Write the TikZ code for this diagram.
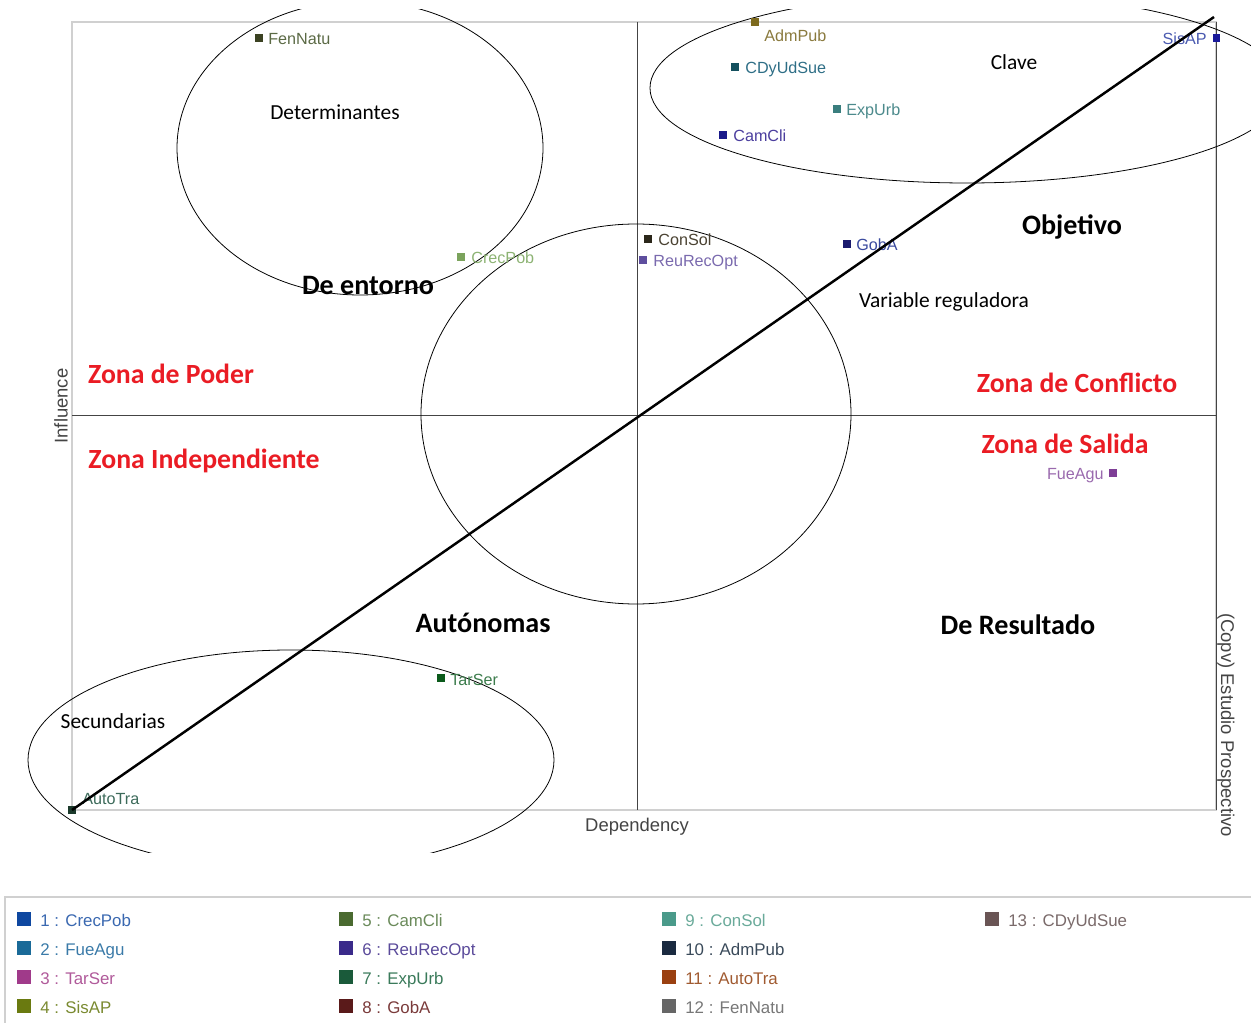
\documentclass[tikz,border=0pt]{standalone}
\usepackage{fontspec}
\setmainfont{Carlito}
\newfontfamily\arialf{Liberation Sans}
\definecolor{zred}{HTML}{EA1C24}
\definecolor{framegray}{HTML}{D0D0D0}
\definecolor{axisgray}{HTML}{444444}
\begin{document}
\begin{tikzpicture}[x=0.02cm,y=-0.02cm,
  dot/.style={/utils/exec={\definecolor{dotc}{HTML}{#1}},fill=dotc,draw=none,inner sep=0pt,minimum size=4pt},
  lbl/.style={/utils/exec={\definecolor{lblc}{HTML}{#1}},text=lblc,font=\arialf\fontsize{9.2}{11}\selectfont,inner sep=0pt},
  legsq/.style={/utils/exec={\definecolor{sqc}{HTML}{#1}},fill=sqc,draw=none,inner sep=0pt,minimum size=8.5pt},
  legtx/.style={/utils/exec={\definecolor{txc}{HTML}{#1}},text=txc,font=\arialf\fontsize{9.6}{11}\selectfont,inner sep=0pt,anchor=base west},
  zone/.style={text=zred,font=\fontsize{15.8}{18}\selectfont\bfseries,inner sep=0pt},
  cat/.style={text=black,font=\fontsize{16}{18}\selectfont\bfseries,inner sep=0pt},
  plain/.style={text=black,font=\fontsize{12.2}{14}\selectfont,inner sep=0pt},
  ell/.style={draw=black,line width=0.45pt},
  axlbl/.style={text=axisgray,font=\arialf\fontsize{10.5}{12}\selectfont,inner sep=0pt}]
\useasboundingbox (0,0) rectangle (1251,1023);
% frame and axes
\coordinate (fTL) at (72,22); \coordinate (fBR) at (1216,810);
\draw[framegray,line width=0.6pt] (fTL) rectangle (fBR);
\draw[axisgray,line width=0.5pt] (1216,22) -- (1216,810);
\coordinate (vT) at (637,22); \coordinate (vB) at (637,810);
\coordinate (hL) at (72,415); \coordinate (hR) at (1216,415);
\draw[axisgray,line width=0.5pt] (vT) -- (vB);
\draw[axisgray,line width=0.5pt] (hL) -- (hR);
\node[axlbl,rotate=90] (infl) at (61,406) {Influence};
\node[axlbl] (dep) at (637,827) {Dependency};
\node[axlbl,rotate=-90] (copv) at (1226,725) {(Copv) Estudio Prospectivo};
% ellipses
\begin{scope}
\clip (0,10) rectangle (1251,852);
\draw[ell] (360,148) ellipse [x radius=183, y radius=147];
\draw[ell] (967,88) ellipse [x radius=317, y radius=95];
\draw[ell] (636,414) ellipse [x radius=215, y radius=190];
\draw[ell] (291,760) ellipse [x radius=263, y radius=110];
\end{scope}
% data points
\node[dot=3B4222] (pFen) at (259,38) {};
\node[lbl=5B6A45,anchor=base west] (lFen) at (268,45) {FenNatu};
\node[dot=7D6A1E] (pAdm) at (755,22) {};
\node[lbl=8A7A3E,anchor=base west] (lAdm) at (764,42) {AdmPub};
\node[dot=14505E] (pCDy) at (735,67) {};
\node[lbl=2E6E86,anchor=base west] (lCDy) at (745,74) {CDyUdSue};
\node[dot=3A7E7E] (pExp) at (837,109) {};
\node[lbl=4C8A8C,anchor=base west] (lExp) at (846,116) {ExpUrb};
\node[dot=1A1A8A] (pCam) at (723,135) {};
\node[lbl=4B3E9E,anchor=base west] (lCam) at (733,142) {CamCli};
\node[dot=1A1A9A] (pSis) at (1216,38) {};
\node[lbl=4A5AB0,anchor=base east] (lSis) at (1207,45) {SisAP};
\node[dot=2B271A] (pCon) at (648,239) {};
\node[lbl=4A4232,anchor=base west] (lCon) at (658,246) {ConSol};
\node[dot=5E4E9E] (pReu) at (643,260) {};
\node[lbl=7A6AAE,anchor=base west] (lReu) at (653,267) {ReuRecOpt};
\node[dot=7BA35C] (pCre) at (461,257) {};
\node[lbl=8DB374,anchor=base west] (lCre) at (471,264) {CrecPob};
\node[dot=1A1A6E] (pGob) at (847,244) {};
\node[lbl=3A4A9E,anchor=base west] (lGob) at (856,251) {GobA};
\node[dot=7E3E96] (pFue) at (1113,473) {};
\node[lbl=9A6AAE,anchor=base east] (lFue) at (1104,480) {FueAgu};
\node[dot=0B5A1B] (pTar) at (441,678) {};
\node[lbl=3C7C4C,anchor=base west] (lTar) at (450,685) {TarSer};
\node[dot=1B3A2B] (pAut) at (72,810) {};
\node[lbl=3C6A5A,anchor=base west] (lAut) at (82,804) {AutoTra};
% diagonal
\coordinate (dEnd) at (1214,17);
\draw[black,line width=1.4pt] (pAut.center) -- (dEnd);
% category texts
\node[plain] (tDet) at (335,112) {Determinantes};
\node[cat] (tEnt) at (368,285) {De entorno};
\node[plain] (tCla) at (1014,62) {Clave};
\node[cat] (tObj) at (1072,227) {Objetivo};
\node[plain] (tVar) at (944,302) {Variable reguladora};
\node[zone] (zPod) at (171,374) {Zona de Poder};
\node[zone] (zCon) at (1077,383) {Zona de Conflicto};
\node[zone] (zSal) at (1065,444) {Zona de Salida};
\node[zone] (zInd) at (204,461) {Zona Independiente};
\node[cat] (tAut) at (483,623) {Autónomas};
\node[cat] (tRes) at (1018,625) {De Resultado};
\node[plain] (tSec) at (113,721) {Secundarias};
% legend
\draw[framegray,line width=0.6pt] (5,1023) -- (5,897) -- (1251,897);
\foreach \n/\x/\y/\sc/\tc/\t in {
  a/24/919/0E47A0/3A68B0/{1 : CrecPob},
  b/24/948/1A6A98/3A7AA8/{2 : FueAgu},
  c/24/977/A03A8A/B05A9A/{3 : TarSer},
  d/24/1006/6A7A10/7A8A30/{4 : SisAP},
  e/346/919/4A6A30/6A8A5A/{5 : CamCli},
  f/346/948/3A2A8A/5A4A9A/{6 : ReuRecOpt},
  g/346/977/1A5A3A/3A7A5A/{7 : ExpUrb},
  h/346/1006/5A1A1A/7A3A3A/{8 : GobA},
  i/669/919/4A9A8A/6AAA9A/{9 : ConSol},
  j/669/948/1A2A40/3A4A5A/{10 : AdmPub},
  k/669/977/9A4010/A05A30/{11 : AutoTra},
  l/669/1006/666666/777777/{12 : FenNatu},
  m/992/919/6A5555/7A6A6A/{13 : CDyUdSue}}{
  \node[legsq=\sc] (sq\n) at (\x,\y) {};
  \node[legtx=\tc] (tx\n) at (\x+16,\y+7) {\t};
}
\end{tikzpicture}
\end{document}
